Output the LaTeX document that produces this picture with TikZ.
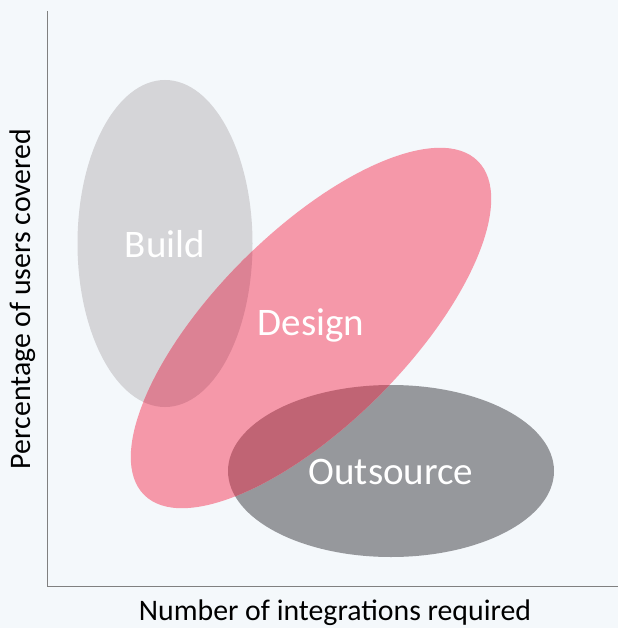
\documentclass[tikz,border=0pt]{standalone}
\usepackage{fontspec}
\setmainfont{Carlito}
\definecolor{bgc}{HTML}{F4F8FB}
\definecolor{buildc}{HTML}{D5D5D8}
\definecolor{designc}{HTML}{F598A9}
\definecolor{outc}{HTML}{96989C}
\definecolor{bdc}{HTML}{DC8294}
\definecolor{doc}{HTML}{C06474}
\definecolor{axisc}{HTML}{808080}
\tikzset{
  biglabel/.style={text=white, font=\fontsize{39}{46}\selectfont, inner sep=0pt},
  axislabel/.style={text=black, font=\fontsize{29.8}{36}\selectfont, inner sep=0pt},
  axisline/.style={draw=axisc, line width=1.2pt},
  buildshape/.style={insert path={(165,243.5) ellipse [x radius=87.5, y radius=163.5]}},
  outshape/.style={insert path={(391,471) ellipse [x radius=163, y radius=86]}},
  designshape/.style={insert path={[rotate around={45:(311,328)}] (311,328) ellipse [x radius=236, y radius=96]}}
}
\begin{document}
\begin{tikzpicture}[x=1pt,y=-1pt]
\fill[bgc] (0,0) rectangle (618,628);
\useasboundingbox (0,0) rectangle (618,628);
% axes
\coordinate (ytop) at (47.5,11);
\coordinate (origin) at (47.5,586.5);
\coordinate (xend) at (618,586.5);
\draw[axisline] (ytop) -- (origin) -- (xend);
% ellipses
\fill[buildc, buildshape];
\fill[outc, outshape];
\fill[designc, designshape];
\begin{scope}
  \clip[designshape];
  \fill[bdc, buildshape];
  \fill[doc, outshape];
\end{scope}
% labels
\node[biglabel] (build) at (165,244) {Build};
\node[biglabel] (design) at (311,325) {Design};
\node[biglabel] (outsource) at (391,472) {Outsource};
\node[axislabel] (xlabel) at (335,613) {Number of integrations required};
\node[axislabel, rotate=90] (ylabel) at (23,299) {Percentage of users covered};
\end{tikzpicture}
\end{document}
